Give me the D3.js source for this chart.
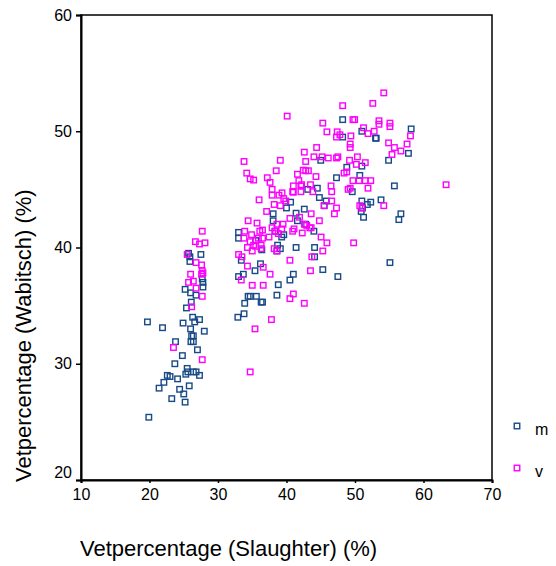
<!DOCTYPE html>
<html>
<head>
<meta charset="utf-8">
<script src="https://cdn.jsdelivr.net/npm/d3@7"></script>
<style>
    body { margin: 0; background: #fff; }
    text { font-family: "Liberation Sans", Arial, sans-serif; fill: #000; }
</style>
</head>
<body>
<div id="app"></div>
<script>
// ----- Data -----
const groups = ["m", "v"];
const xTicks = [10, 20, 30, 40, 50, 60, 70];
const yTicks = [20, 30, 40, 50, 60];

// [Slaughter %, Wabitsch %]
const pointsM = [
    [19.7, 33.6], [19.9, 25.4], [21.9, 33.1], [21.4, 27.9], [22.1, 28.4], [22.6, 29.0],
    [23.0, 28.9], [23.25, 27.0], [23.8, 31.9], [23.7, 30.0], [24.1, 28.7], [24.4, 27.8],
    [24.8, 30.7], [24.9, 33.5], [25.0, 27.4], [25.2, 26.7], [25.2, 36.4], [25.4, 34.8],
    [25.5, 29.6], [25.7, 39.5], [25.9, 39.2], [25.9, 38.8], [25.6, 29.3], [25.3, 29.1],
    [25.8, 28.1], [26.0, 33.0], [26.15, 32.4], [26.05, 31.9], [26.4, 32.4], [26.4, 31.9],
    [26.1, 35.3], [26.0, 36.1], [26.3, 34.0], [26.6, 33.6], [26.8, 35.9], [26.4, 29.3],
    [26.8, 29.3], [27.0, 31.2], [27.3, 29.0], [27.3, 33.8], [27.5, 39.4], [27.7, 37.3],
    [27.8, 36.6], [28.0, 32.8], [27.8, 37.0],
    [33.0, 41.3], [33.0, 40.8], [32.9, 34.0], [33.0, 37.5], [33.4, 38.9], [33.8, 34.3],
    [33.9, 35.2], [33.7, 37.7], [34.4, 35.8], [34.7, 35.8], [35.4, 38.0], [35.6, 35.8],
    [35.5, 40.6], [36.3, 35.3], [36.5, 35.3], [36.2, 38.6], [36.4, 39.8], [38.05, 42.9],
    [38.05, 42.3], [38.3, 41.4], [38.6, 39.7], [38.7, 40.2], [38.6, 35.9], [38.8, 36.8],
    [39.1, 39.9], [39.3, 40.9], [39.6, 41.1], [40.0, 43.4], [40.6, 43.9], [40.5, 37.2],
    [41.0, 37.7], [41.4, 42.95], [41.4, 40.0], [41.6, 42.3], [42.6, 43.3], [42.8, 42.0],
    [43.1, 45.0], [44.0, 41.4], [44.1, 40.0], [44.1, 39.2], [44.5, 45.1], [44.8, 44.3],
    [45.0, 47.5], [45.3, 38.1], [45.5, 43.6], [45.8, 44.0], [47.3, 46.0], [47.5, 37.5],
    [48.2, 49.5], [48.2, 51.0], [48.8, 46.9], [49.6, 44.8], [50.7, 46.2], [51.0, 50.0],
    [51.0, 47.0], [51.0, 44.0], [50.9, 43.1], [51.1, 43.4], [51.25, 42.6], [51.8, 43.7],
    [52.3, 43.9], [53.1, 49.4], [53.0, 49.4], [53.8, 44.1], [54.9, 47.5], [55.1, 38.7],
    [55.75, 45.3], [56.4, 42.4], [56.7, 42.9], [57.8, 48.1], [58.2, 50.2]
];

const pointsV = [
    [23.5, 31.4], [25.5, 39.4], [25.7, 37.0], [26.0, 37.7], [26.15, 34.9], [26.4, 37.1],
    [26.7, 40.5], [26.8, 36.5], [26.8, 38.7], [27.3, 40.3], [27.6, 38.5], [27.7, 41.4],
    [27.7, 38.0], [27.8, 37.8], [27.7, 35.8], [27.7, 30.35], [28.1, 40.4], [27.6, 37.7],
    [34.7, 29.3], [35.4, 33.0], [37.8, 33.8], [35.0, 36.75], [36.6, 36.75], [40.5, 35.6],
    [41.0, 36.0], [42.6, 35.2], [43.5, 38.0], [40.5, 38.9], [37.6, 37.7], [36.6, 38.3],
    [34.3, 38.4], [33.4, 37.2], [33.0, 39.4], [33.5, 39.2], [33.9, 41.4], [33.8, 40.8],
    [34.4, 42.3], [34.3, 40.0], [35.0, 39.7], [35.2, 40.2], [35.7, 42.1], [36.1, 41.4],
    [35.9, 40.8], [36.5, 41.5], [36.3, 40.2], [36.3, 39.9], [37.1, 43.1], [37.45, 40.9],
    [37.9, 41.7], [38.4, 41.4], [38.6, 42.0], [38.8, 41.2], [38.2, 39.9], [39.3, 41.6],
    [39.5, 42.0], [38.6, 39.7], [36.0, 44.1], [37.2, 46.0], [37.6, 45.6], [37.9, 45.0],
    [37.9, 44.5], [38.5, 46.6], [39.1, 47.5], [39.35, 44.7], [39.6, 44.2], [39.1, 43.6],
    [39.9, 44.0], [38.2, 43.7], [40.1, 51.3], [33.8, 47.4], [34.2, 46.4], [34.7, 45.9],
    [35.2, 45.8], [41.0, 45.3], [40.9, 44.8], [41.6, 46.3], [41.8, 45.75], [42.2, 45.4],
    [42.6, 48.2], [42.8, 47.4], [42.8, 46.6], [43.2, 46.6], [43.5, 45.4], [42.1, 44.8],
    [40.5, 42.5], [41.1, 41.6], [40.9, 41.4], [41.9, 42.6], [42.3, 41.25], [42.6, 42.0],
    [42.95, 41.9], [43.4, 41.7], [43.6, 42.9], [43.7, 39.2], [43.6, 41.7], [44.3, 46.1],
    [44.4, 48.6], [44.0, 47.8], [43.85, 44.8], [44.8, 42.3], [45.2, 47.8], [45.3, 50.7],
    [45.05, 40.9], [45.3, 39.7], [45.5, 43.6], [45.9, 40.4], [45.9, 49.95], [46.1, 47.7],
    [46.5, 45.3], [46.6, 44.8], [46.6, 44.0], [47.0, 42.9], [47.3, 43.4], [47.3, 47.7],
    [47.5, 47.8], [47.3, 49.5], [47.4, 49.95], [47.8, 49.7], [48.2, 52.2], [48.4, 46.4],
    [48.8, 46.5], [49.2, 47.5], [49.3, 48.9], [49.3, 48.6], [49.4, 49.6], [49.0, 45.0],
    [49.3, 45.1], [49.7, 45.75], [49.7, 51.0], [49.95, 51.0], [49.8, 40.4], [50.2, 47.15],
    [50.35, 47.8], [50.6, 45.75], [50.7, 43.6], [51.0, 43.4], [51.25, 50.3], [51.5, 45.75],
    [51.5, 47.3], [51.9, 45.1], [52.3, 45.75], [51.9, 49.8], [52.6, 52.4], [52.8, 50.0],
    [53.5, 50.9], [53.5, 50.6], [54.2, 53.3], [54.2, 43.6], [54.9, 49.0], [55.1, 50.7],
    [55.1, 50.4], [55.4, 48.0], [55.75, 48.6], [56.7, 48.3], [57.6, 48.9], [58.1, 49.6],
    [63.3, 45.4], [34.9, 41.1], [34.7, 40.5], [35.5, 40.1], [36.5, 40.8], [38.9, 44.5],
    [42.1, 45.3], [42.45, 46.65], [41.0, 44.75]
];

// ----- Layout -----
const Width = 556, Height = 566;
const Left = 81, Right = 492, Top = 15, Bottom = 480;
const Colors = { m: "#184a87", v: "#ff00ff" };
const MarkSize = 5.5;

function main() {
    const svg = d3.select("#app").append("svg")
        .attr("width", Width)
        .attr("height", Height);

    const xScale = d3.scaleLinear().domain([10, 70]).range([Left, Right]);
    const yScale = d3.scaleLinear().domain([20, 60]).range([Bottom, Top]);

    // frame (top + right)
    svg.append("rect")
        .attr("x", Left).attr("y", Top)
        .attr("width", Right - Left).attr("height", Bottom - Top)
        .attr("fill", "none").attr("stroke", "#000").attr("stroke-width", 1.5);

    // points
    const series = [
        { key: "m", pts: pointsM },
        { key: "v", pts: pointsV }
    ];
    series.forEach(s => {
        svg.append("g").selectAll("rect")
            .data(s.pts)
            .enter()
            .append("rect")
                .attr("x", d => xScale(d[0]) - MarkSize / 2)
                .attr("y", d => yScale(d[1]) - MarkSize / 2)
                .attr("width", MarkSize)
                .attr("height", MarkSize)
                .attr("fill", "none")
                .attr("stroke", Colors[s.key])
                .attr("stroke-width", 1.4);
    });

    // axes
    const axisLeft = d3.axisLeft(yScale).tickValues(yTicks).tickSize(5).tickPadding(4);
    const axisBottom = d3.axisBottom(xScale).tickValues(xTicks).tickSize(3).tickPadding(6);

    const gy = svg.append("g")
        .attr("transform", `translate(${Left}, 0)`)
        .call(axisLeft);
    const gx = svg.append("g")
        .attr("transform", `translate(0, ${Bottom})`)
        .call(axisBottom);

    [gx, gy].forEach(g => {
        g.select(".domain").attr("stroke", "#000").attr("stroke-width", 2);
        g.selectAll(".tick line").attr("stroke", "#000").attr("stroke-width", 1.5);
        g.selectAll(".tick text")
            .style("font-family", "'Liberation Sans', Arial, sans-serif")
            .style("font-size", "16px")
            .attr("fill", "#000");
    });
    // bottom y label sits a little above its tick
    gy.selectAll(".tick text").filter(d => d === 20).attr("dy", "-0.18em");

    // axis titles
    svg.append("text")
        .attr("x", 80).attr("y", 556)
        .style("font-size", "22px")
        .text("Vetpercentage (Slaughter) (%)");
    svg.append("text")
        .attr("transform", "translate(31, 482) rotate(-90)")
        .style("font-size", "22px")
        .text("Vetpercentage (Wabitsch) (%)");

    // legend
    const legend = svg.append("g");
    groups.forEach((g, i) => {
        const cy = 426 + i * 42;
        legend.append("rect")
            .attr("x", 517 - MarkSize / 2).attr("y", cy - MarkSize / 2)
            .attr("width", MarkSize).attr("height", MarkSize)
            .attr("fill", "none").attr("stroke", Colors[g]).attr("stroke-width", 1.4);
        legend.append("text")
            .attr("x", 535).attr("y", cy + 9)
            .style("font-size", "16px")
            .text(g);
    });
}

main();
</script>
</body>
</html>
